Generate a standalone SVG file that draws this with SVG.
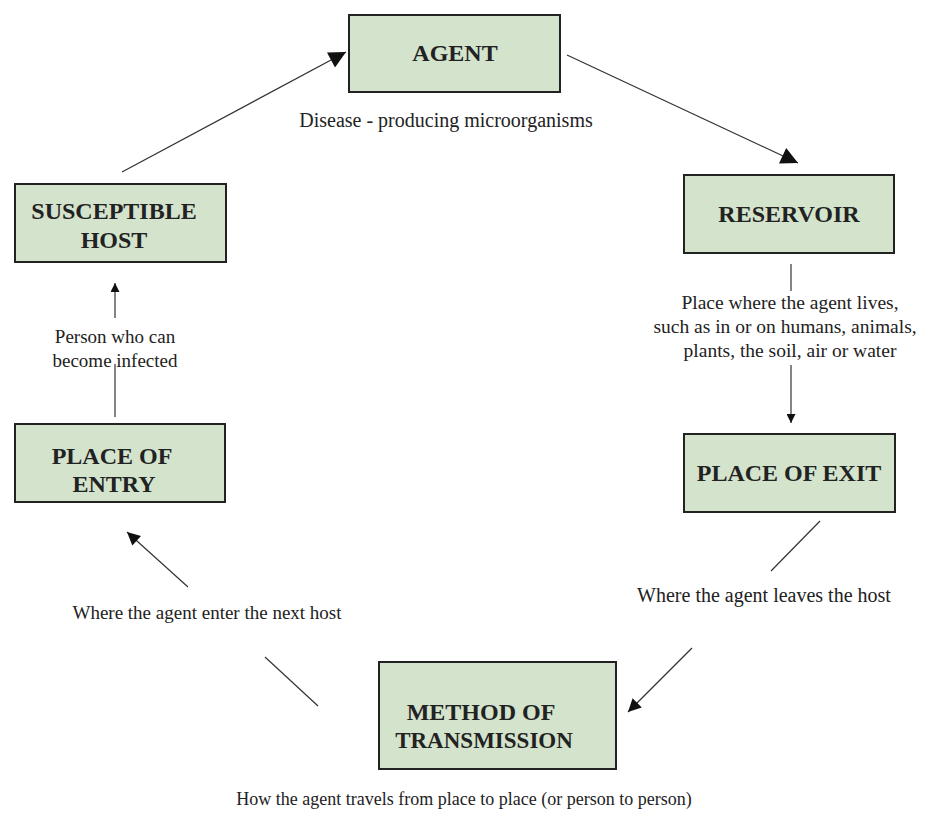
<svg xmlns="http://www.w3.org/2000/svg" width="926" height="824" viewBox="0 0 926 824">
<defs>
<style>
.box{fill:#d3e3cc;stroke:#222;stroke-width:2}
.lbl{font-family:"Liberation Serif","Times New Roman",serif;font-weight:bold;font-size:24px;fill:#222;text-anchor:middle}
.note{font-family:"Liberation Serif","Times New Roman",serif;font-size:20px;fill:#222;text-anchor:middle}
.ln{stroke:#333;stroke-width:1.2;fill:none}
</style>
<marker id="big" viewBox="0 0 10 10" refX="10" refY="5" markerWidth="24" markerHeight="17" markerUnits="userSpaceOnUse" orient="auto"><path d="M0,0 L10,5 L0,10 z" fill="#111"/></marker>
<marker id="mid" viewBox="0 0 10 10" refX="10" refY="5" markerWidth="18" markerHeight="13" markerUnits="userSpaceOnUse" orient="auto"><path d="M0,0 L10,5 L0,10 z" fill="#111"/></marker>
<marker id="small" viewBox="0 0 10 10" refX="10" refY="5" markerWidth="12" markerHeight="9" markerUnits="userSpaceOnUse" orient="auto"><path d="M0,0 L10,5 L0,10 z" fill="#111"/></marker>
</defs>
<rect width="926" height="824" fill="#fff"/>
<g id="connectors">
<line class="ln" x1="122" y1="172" x2="346" y2="52" marker-end="url(#big)"/>
<line class="ln" x1="567" y1="55" x2="798" y2="163" marker-end="url(#big)"/>
<line class="ln" x1="791" y1="264" x2="791" y2="291"/>
<line class="ln" x1="791" y1="365" x2="791" y2="423" marker-end="url(#small)"/>
<line class="ln" x1="820" y1="521" x2="771" y2="571"/>
<line class="ln" x1="692" y1="648" x2="628" y2="712" marker-end="url(#mid)"/>
<line class="ln" x1="318" y1="706" x2="265" y2="657"/>
<line class="ln" x1="188" y1="587" x2="127" y2="532" marker-end="url(#mid)"/>
<line class="ln" x1="115" y1="364" x2="115" y2="417"/>
<line class="ln" x1="115" y1="318" x2="115" y2="283" marker-end="url(#small)"/>
</g>
<g id="agent">
<rect class="box" x="349" y="15" width="211" height="77"/>
<text class="lbl" x="455" y="61">AGENT</text>
<text class="note" x="446" y="127">Disease - producing microorganisms</text>
</g>
<g id="reservoir">
<rect class="box" x="684" y="175" width="210" height="78"/>
<text class="lbl" x="789" y="222">RESERVOIR</text>
<text class="note" x="790" y="309" style="font-size:19.5px">Place where the agent lives,</text>
<text class="note" x="785" y="333" style="font-size:19.5px">such as in or on humans, animals,</text>
<text class="note" x="790" y="357" style="font-size:19.5px">plants, the soil, air or water</text>
</g>
<g id="place-of-exit">
<rect class="box" x="684" y="434" width="211" height="78"/>
<text class="lbl" x="789" y="481">PLACE OF EXIT</text>
<text class="note" x="764" y="602">Where the agent leaves the host</text>
</g>
<g id="method-of-transmission">
<rect class="box" x="379" y="662" width="237" height="107"/>
<text class="lbl" x="481" y="720">METHOD OF</text>
<text class="lbl" x="484" y="748" style="font-size:23px">TRANSMISSION</text>
<text class="note" x="464" y="805" style="font-size:18px">How the agent travels from place to place (or person to person)</text>
</g>
<g id="place-of-entry">
<rect class="box" x="15" y="424" width="210" height="78"/>
<text class="lbl" x="112" y="464">PLACE OF</text>
<text class="lbl" x="114" y="492">ENTRY</text>
<text class="note" x="207" y="619" style="font-size:19px">Where the agent enter the next host</text>
</g>
<g id="susceptible-host">
<rect class="box" x="15" y="184" width="211" height="78"/>
<text class="lbl" x="114" y="219">SUSCEPTIBLE</text>
<text class="lbl" x="114" y="248">HOST</text>
<text class="note" x="115" y="343" style="font-size:19px">Person who can</text>
<text class="note" x="115" y="367" style="font-size:19px">become infected</text>
</g>
</svg>
